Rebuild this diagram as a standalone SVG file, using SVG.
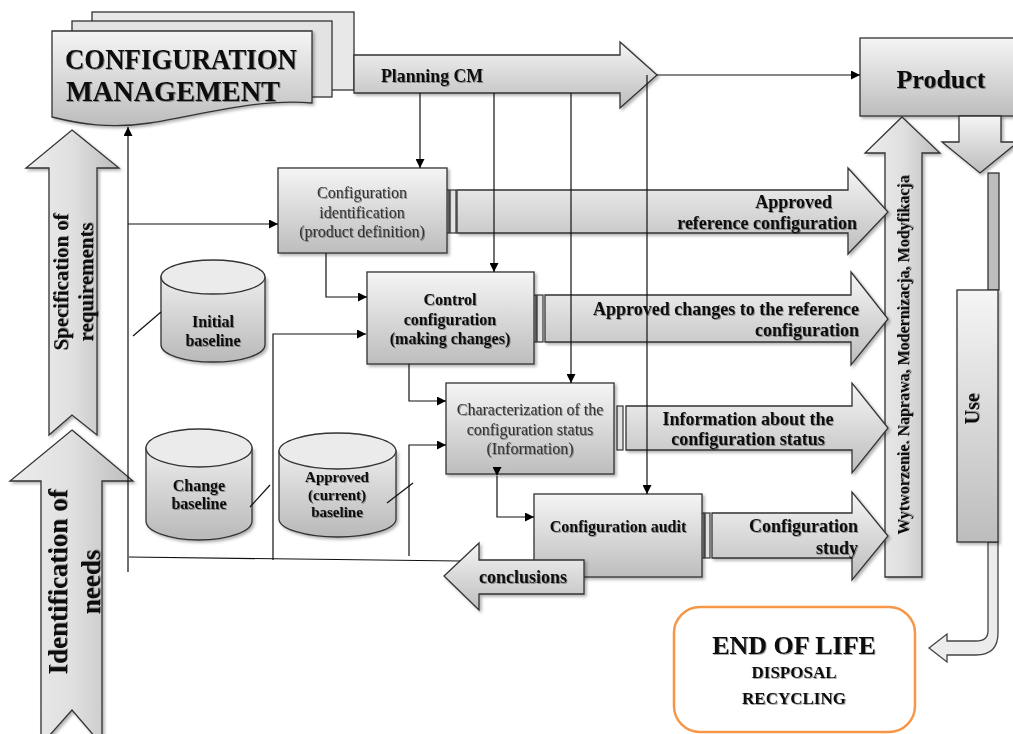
<svg xmlns="http://www.w3.org/2000/svg" width="1013" height="734" viewBox="0 0 1013 734">
<defs>
<linearGradient id="gv" x1="0" y1="0" x2="0" y2="1"><stop offset="0" stop-color="#f5f5f5"/><stop offset="1" stop-color="#bdbdbd"/></linearGradient>
<linearGradient id="gh" x1="0" y1="0" x2="1" y2="0"><stop offset="0" stop-color="#ededed"/><stop offset="0.5" stop-color="#e0e0e0"/><stop offset="1" stop-color="#bcbcbc"/></linearGradient>
<linearGradient id="gc" x1="0" y1="0" x2="0" y2="1"><stop offset="0" stop-color="#ececec"/><stop offset="1" stop-color="#b9b9b9"/></linearGradient>
<filter id="sh" x="-10%" y="-10%" width="130%" height="130%"><feDropShadow dx="2" dy="2" stdDeviation="1.5" flood-color="#000" flood-opacity="0.3"/></filter>
<filter id="ts" x="-5%" y="-20%" width="115%" height="150%"><feDropShadow dx="1" dy="1" stdDeviation="0.7" flood-color="#000" flood-opacity="0.35"/></filter>
<marker id="ah" viewBox="0 0 10 10" refX="10" refY="5" markerWidth="9" markerHeight="9" markerUnits="userSpaceOnUse" orient="auto"><path d="M0,0 L10,5 L0,10 Z" fill="#000"/></marker>
</defs>
<style>
.s{stroke:#333;stroke-width:1.3}
.box{fill:url(#gv);stroke:#333;stroke-width:1.3;filter:url(#sh)}
.arr{fill:url(#gv);stroke:#333;stroke-width:1.3;filter:url(#sh)}
.bar{fill:#e4e4e4;stroke:#333;stroke-width:1.2}
.b{font-family:"Liberation Serif","Times New Roman",serif;font-weight:bold;fill:#111;filter:url(#ts)}
.r{font-family:"Liberation Serif","Times New Roman",serif;fill:#333;filter:url(#ts)}
.c{stroke:#111;stroke-width:1.2;fill:none}
</style>

<g id="cm">
<rect x="92" y="12" width="262" height="78" class="s" fill="#e8e8e8"/>
<g id="planning">
<path d="M354,55 H620 V42 L657,75 L620,108 V93 H354 Z" class="arr"/>
<text x="381" y="82" class="b" font-size="19" textLength="102" lengthAdjust="spacingAndGlyphs">Planning CM</text>
</g>
<rect x="72" y="21" width="260" height="76" class="s" fill="#e3e3e3"/>
<path d="M52,31 H312 V103 C260,98 200,115 150,123 C110,129 80,124 52,117 Z" class="s" fill="url(#gv)" filter="url(#sh)"/>
<text x="181" y="69" class="b" font-size="29" text-anchor="middle" textLength="232" lengthAdjust="spacingAndGlyphs">CONFIGURATION</text>
<text x="173" y="101" class="b" font-size="29" text-anchor="middle" textLength="214" lengthAdjust="spacingAndGlyphs">MANAGEMENT</text>
</g>

<g id="product">
<rect x="860" y="38" width="160" height="78" class="box"/>
<text x="941" y="88" class="b" font-size="26" text-anchor="middle">Product</text>
</g>
<g id="product-down">
<path d="M959,116 H1001 V142 H1018 L980,173 L942,142 H959 Z" class="arr"/>
</g>

<g id="wytworzenie">
<path d="M902,117 L940,153 H922 V577 H885 V153 H865 Z" fill="url(#gh)" class="s" filter="url(#sh)"/>
<text transform="translate(909,355) rotate(-90)" class="b" font-size="16" text-anchor="middle">Wytworzenie. Naprawa, Modernizacja, Modyfikacja</text>
</g>

<g id="use">
<rect x="988" y="173" width="11" height="117" fill="#bdbdbd" class="s"/>
<path d="M998,542 V633 Q998,655 976,655 H947 V662 L929,648 L947,634 V641 H976 Q988,641 988,631 V542 Z" fill="#ececec" stroke="#444" stroke-width="1.3"/>
<rect x="957" y="290" width="41" height="252" class="box"/>
<text transform="translate(979,409) rotate(-90)" class="b" font-size="20" text-anchor="middle">Use</text>
</g>

<g id="spec">
<path d="M72,130 L119,168 H97 V435 L72,415 L49,435 V168 H26 Z" fill="url(#gh)" class="s" filter="url(#sh)"/>
<text transform="translate(68,282) rotate(-90)" class="b" font-size="20" text-anchor="middle" textLength="137" lengthAdjust="spacingAndGlyphs">Specification of</text>
<text transform="translate(93,282) rotate(-90)" class="b" font-size="20" text-anchor="middle" textLength="119" lengthAdjust="spacingAndGlyphs">requirements</text>
</g>

<g id="ident">
<path d="M72,430 L133,481 H102 V745 L72,710 L41,745 V481 H10 Z" fill="url(#gh)" class="s" filter="url(#sh)"/>
<text transform="translate(67,582) rotate(-90)" class="b" font-size="27" text-anchor="middle">Identification of</text>
<text transform="translate(100,582) rotate(-90)" class="b" font-size="27" text-anchor="middle">needs</text>
</g>

<g id="out-approved-ref">
<path d="M457,190 H848 V168 L888,212 L848,254 V233 H457 Z" class="arr"/>
<rect x="443" y="190" width="6" height="43" class="bar"/>
<rect x="450" y="190" width="6" height="43" class="bar"/>
<text x="832" y="208" class="b" font-size="18" text-anchor="end">Approved</text>
<text x="857" y="229" class="b" font-size="18" text-anchor="end">reference configuration</text>
</g>
<g id="out-approved-changes">
<path d="M545,295 H851 V272 L888,319 L851,365 V342 H545 Z" class="arr"/>
<rect x="530" y="295" width="6" height="47" class="bar"/>
<rect x="537" y="295" width="6" height="47" class="bar"/>
<text x="859" y="315" class="b" font-size="18" text-anchor="end">Approved changes to the reference</text>
<text x="859" y="336" class="b" font-size="18" text-anchor="end">configuration</text>
</g>
<g id="out-information">
<path d="M626,406 H852 V383 L888,428 L852,473 V450 H626 Z" class="arr"/>
<rect x="617" y="406" width="6" height="44" class="bar"/>
<text x="748" y="425" class="b" font-size="18" text-anchor="middle">Information about the</text>
<text x="748" y="445" class="b" font-size="18" text-anchor="middle">configuration status</text>
</g>
<g id="out-study">
<path d="M712,513 H852 V492 L888,536 L852,580 V558 H712 Z" class="arr"/>
<rect x="699" y="513" width="5" height="45" class="bar"/>
<rect x="705" y="513" width="5" height="45" class="bar"/>
<text x="858" y="532" class="b" font-size="18" text-anchor="end">Configuration</text>
<text x="858" y="554" class="b" font-size="18" text-anchor="end">study</text>
</g>

<g id="initial-baseline">
<path d="M161,277 V345 A52,17 0 0 0 265,345 V277 Z" fill="url(#gc)" class="s" filter="url(#sh)"/>
<ellipse cx="213" cy="277" rx="52" ry="17" fill="#ebebeb" class="s"/>
<text x="213" y="327" class="b" font-size="16" text-anchor="middle">Initial</text>
<text x="213" y="346" class="b" font-size="16" text-anchor="middle">baseline</text>
</g>
<g id="change-baseline">
<path d="M146,448 V521 A53,19 0 0 0 252,521 V448 Z" fill="url(#gc)" class="s" filter="url(#sh)"/>
<ellipse cx="199" cy="448" rx="53" ry="19" fill="#ebebeb" class="s"/>
<text x="199" y="491" class="b" font-size="16" text-anchor="middle">Change</text>
<text x="199" y="509" class="b" font-size="16" text-anchor="middle">baseline</text>
</g>
<g id="approved-baseline">
<path d="M279,451 V519 A58.5,18 0 0 0 396,519 V451 Z" fill="url(#gc)" class="s" filter="url(#sh)"/>
<ellipse cx="337.5" cy="451" rx="58.5" ry="18" fill="#ebebeb" class="s"/>
<text x="337" y="482" class="b" font-size="15" text-anchor="middle">Approved</text>
<text x="337" y="500" class="b" font-size="15" text-anchor="middle">(current)</text>
<text x="337" y="517" class="b" font-size="15" text-anchor="middle">baseline</text>
</g>

<g id="config-identification">
<rect x="278" y="168" width="169" height="85" class="box"/>
<text x="362" y="198" class="r" font-size="16" text-anchor="middle">Configuration</text>
<text x="362" y="218" class="r" font-size="16" text-anchor="middle">identification</text>
<text x="362" y="237" class="r" font-size="16" text-anchor="middle">(product definition)</text>
</g>
<g id="control-configuration">
<rect x="367" y="272" width="167" height="92" class="box"/>
<text x="450" y="305" class="b" font-size="16" text-anchor="middle">Control</text>
<text x="450" y="325" class="b" font-size="16" text-anchor="middle">configuration</text>
<text x="450" y="344" class="b" font-size="16" text-anchor="middle">(making changes)</text>
</g>
<g id="characterization">
<rect x="446" y="383" width="168" height="91" class="box"/>
<text x="530" y="415" class="r" font-size="16" text-anchor="middle">Characterization of the</text>
<text x="530" y="435" class="r" font-size="16" text-anchor="middle">configuration status</text>
<text x="530" y="454" class="r" font-size="16" text-anchor="middle">(Information)</text>
</g>
<g id="config-audit">
<rect x="534" y="494" width="168" height="83" class="box"/>
<text x="618" y="532" class="b" font-size="16" text-anchor="middle">Configuration audit</text>
</g>
<g id="conclusions">
<path d="M584,560 H479 V543 L444,576 L479,610 V594 H584 Z" class="arr"/>
<text x="523" y="583" class="b" font-size="18" text-anchor="middle">conclusions</text>
</g>

<g id="end-of-life">
<rect x="674" y="607" width="241" height="125" rx="26" ry="26" fill="#fff" stroke="#f79646" stroke-width="2.5"/>
<text x="794" y="654" class="b" font-size="26" text-anchor="middle">END OF LIFE</text>
<text x="794" y="678" class="b" font-size="17" text-anchor="middle">DISPOSAL</text>
<text x="794" y="704" class="b" font-size="17" text-anchor="middle">RECYCLING</text>
</g>

<g id="connectors">
<line x1="657" y1="75" x2="860" y2="75" class="c" marker-end="url(#ah)"/>
<line x1="420" y1="93" x2="420" y2="168" class="c" marker-end="url(#ah)"/>
<line x1="494" y1="93" x2="494" y2="272" class="c" marker-end="url(#ah)"/>
<line x1="571" y1="93" x2="571" y2="383" class="c" marker-end="url(#ah)"/>
<line x1="647" y1="75" x2="647" y2="494" class="c" marker-end="url(#ah)"/>
<line x1="128" y1="572" x2="128" y2="127" class="c" marker-end="url(#ah)"/>
<line x1="128" y1="224" x2="278" y2="224" class="c" marker-end="url(#ah)"/>
<polyline points="326,253 326,297 367,297" class="c" marker-end="url(#ah)"/>
<polyline points="409,364 409,401 446,401" class="c" marker-end="url(#ah)"/>
<polyline points="497,476 497,517 534,517" class="c" marker-end="url(#ah)" marker-start="url(#ah)"/>
<polyline points="273,560 273,334 366,334" class="c" marker-end="url(#ah)"/>
<polyline points="409,556 409,445 446,445" class="c" marker-end="url(#ah)"/>
<line x1="129" y1="557" x2="460" y2="561" class="c"/>
<line x1="133" y1="336" x2="161" y2="312" class="c"/>
<line x1="250" y1="507" x2="270" y2="485" class="c"/>
<line x1="387" y1="503" x2="413" y2="483" class="c"/>
</g>
</svg>
